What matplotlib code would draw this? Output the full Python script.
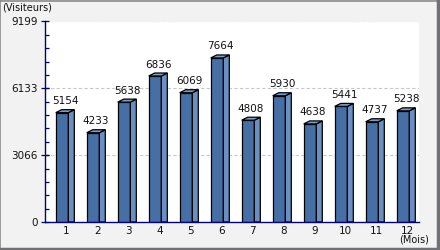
import matplotlib.pyplot as plt
from matplotlib.patches import Rectangle, Polygon
from matplotlib.lines import Line2D

# Data
months = [1, 2, 3, 4, 5, 6, 7, 8, 9, 10, 11, 12]
visitors = [5154, 4233, 5638, 6836, 6069, 7664, 4808, 5930, 4638, 5441, 4737, 5238]
yticks = [0, 3066, 6133, 9199]

plt.rcParams['font.family'] = ['Liberation Sans Narrow', 'DejaVu Sans']

front_col = '#4670a5'
side_col = '#6a8fc0'
top_col = '#7a9cc8'
axis_col = '#000080'

fig = plt.figure(figsize=(4.4, 2.5), dpi=100, facecolor='#f2f2f2')
ax = fig.add_axes([44.5 / 440, 28 / 250, (419 - 44.5) / 440, (222 - 21.5) / 250])
ax.set_facecolor('white')

xmin, xmax = 0.435, 12.516
ymax = yticks[-1]
ax.set_xlim(xmin, xmax)
ax.set_ylim(0, ymax)

# pixel -> data conversions for the fake 3D depth
px_x = (xmax - xmin) / 374.5
px_y = ymax / 200.5
w = 12.6 * px_x
dx = 6 * px_x
dy = 3 * px_y

for m, v in zip(months, visitors):
    x0 = m - w / 2
    x1 = m + w / 2
    ax.add_patch(Rectangle((x0, 0), w, v - dy, facecolor=front_col,
                           edgecolor='black', lw=0.9, zorder=3))
    ax.add_patch(Polygon([(x1, 0), (x1, v - dy), (x1 + dx, v), (x1 + dx, 0)],
                         facecolor=side_col, edgecolor='black', lw=0.9, zorder=3))
    ax.add_patch(Polygon([(x0, v - dy), (x1, v - dy), (x1 + dx, v), (x0 + dx, v)],
                         facecolor=top_col, edgecolor='black', lw=0.9, zorder=3))
    ax.annotate(str(v), (m + dx / 2, v), xytext=(0, 2.5), textcoords='offset points',
                ha='center', va='bottom', fontsize=7.5, color='#111111')

# grid
for t in yticks[1:]:
    ax.axhline(t, color='#c8c8c8', lw=0.8, ls=(0, (3, 2)), zorder=1)

for s in ['top', 'right']:
    ax.spines[s].set_visible(False)
for s in ['left', 'bottom']:
    ax.spines[s].set_color(axis_col)
    ax.spines[s].set_linewidth(1.0)
    ax.spines[s].set_zorder(4)

ax.set_yticks(yticks)
ax.set_yticklabels([str(t) for t in yticks], fontsize=7.5, color='#111111')
ax.set_yticks([i * ymax / 15 for i in range(16)], minor=True)
ax.tick_params(axis='y', which='major', direction='inout', length=6, width=0.9,
               color=axis_col, pad=2)
ax.tick_params(axis='y', which='minor', direction='in', length=3, width=0.9,
               color=axis_col)

ax.set_xticks([m + 0.14 for m in months])
ax.set_xticklabels([str(m) for m in months], fontsize=7.5, color='#111111')
ax.tick_params(axis='x', length=0, pad=3)

fig.text(2 / 440, 1 - 7 / 250, '(Visiteurs)', fontsize=7, va='center', ha='left',
         color='#111111')
fig.text(429 / 440, 1 - 240 / 250, '(Mois)', fontsize=7, va='center', ha='right',
         color='#111111')

# frame around the picture
fig.add_artist(Line2D([0, 1], [0.998, 0.998], transform=fig.transFigure,
                      color='#8a8a8a', lw=1.2))
fig.add_artist(Line2D([0.001, 0.001], [0, 1], transform=fig.transFigure,
                      color='#8a8a8a', lw=1.2))
fig.add_artist(Line2D([0, 1], [0.006, 0.006], transform=fig.transFigure,
                      color='#707078', lw=2.5))
fig.add_artist(Line2D([0.9965, 0.9965], [0, 1], transform=fig.transFigure,
                      color='#707078', lw=2.5))

fig.savefig('out.png', dpi=100, facecolor=fig.get_facecolor())
